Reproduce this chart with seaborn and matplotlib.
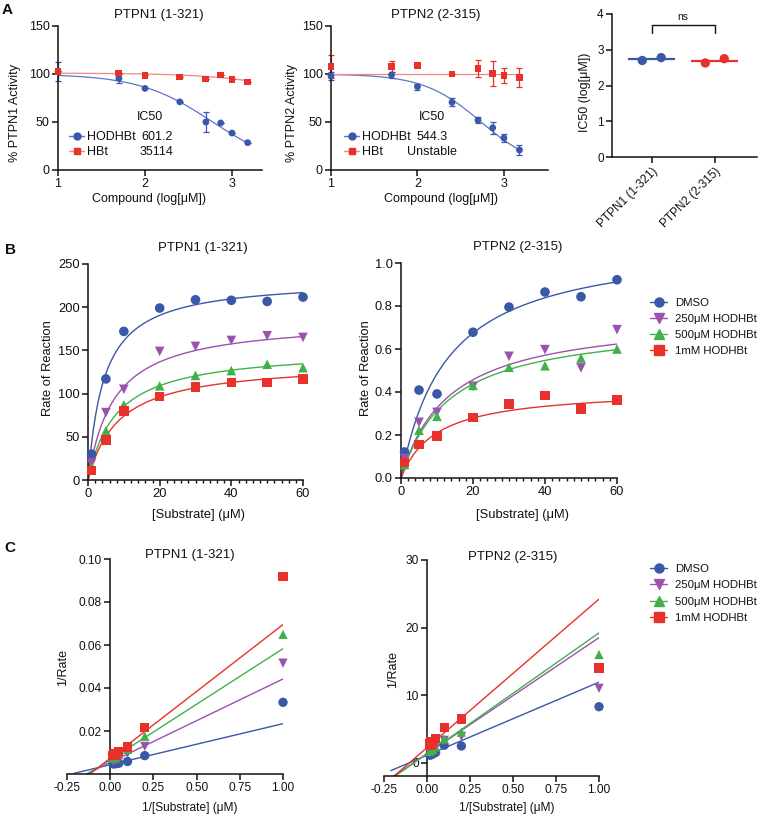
import numpy as np
import pandas as pd
import seaborn as sns
import matplotlib.pyplot as plt
from matplotlib.lines import Line2D
from matplotlib.ticker import MultipleLocator, FormatStrFormatter

# ------------------------------------------------------------------------------
# Data
# ------------------------------------------------------------------------------
# Panel A: dose response, x = log[compound] (uM)
log_conc = [1.0, 1.7, 2.0, 2.4, 2.7, 2.87, 3.0, 3.18]
n1_hodhbt = [102.4, 95.5, 85.0, 71.0, 50.0, 49.0, 38.5, 28.5]
n1_hodhbt_err = [10, 5, 0, 0, 10, 0, 0, 0]
n1_hbt = [103.0, 101.0, 98.6, 96.9, 94.8, 99.0, 94.5, 91.7]
n1_hbt_err = [0, 0, 0, 0, 0, 0, 0, 0]
n2_hodhbt = [98.0, 99.0, 86.8, 70.5, 52.0, 44.0, 33.3, 20.8]
n2_hodhbt_err = [4, 3, 3, 4, 3, 6, 4, 5]
n2_hbt = [107.6, 107.6, 108.7, 100.0, 106.0, 100.7, 98.6, 96.0]
n2_hbt_err = [12, 6, 0, 0, 9, 13, 8, 10]

# fitted curves: (top, logIC50, hill slope)
n1_fit_hodhbt = (100.0, 2.779, 1.02)
n1_fit_hbt = (101.0, 4.545, 0.78)
n2_fit_hodhbt = (100.0, 2.736, 1.30)
n2_hbt_flat = 100.0  # unstable fit -> flat line

n1_ic50_text = ['601.2', '35114']
n2_ic50_text = ['544.3', 'Unstable']

# IC50 replicates, log[uM]
ic50_groups = ['PTPN1 (1-321)', 'PTPN2 (2-315)']
ic50_reps = [[2.70, 2.78], [2.63, 2.75]]

# Panel B: Michaelis-Menten
substrate = [1, 5, 10, 20, 30, 40, 50, 60]
conditions = ['DMSO', '250μM HODHBt', '500μM HODHBt', '1mM HODHBt']
b1_rates = [
    [30.0, 117.0, 172.0, 199.0, 208.6, 208.0, 206.7, 211.7],
    [19.4, 78.0, 105.0, 148.8, 154.6, 161.5, 167.0, 165.0],
    [15.4, 57.0, 87.0, 109.0, 121.0, 126.7, 134.0, 130.0],
    [10.9, 46.0, 80.0, 96.6, 107.4, 113.0, 113.0, 117.0],
]
b2_rates = [
    [0.121, 0.409, 0.391, 0.678, 0.795, 0.865, 0.843, 0.922],
    [0.091, 0.259, 0.305, 0.426, 0.566, 0.597, 0.512, 0.690],
    [0.0625, 0.222, 0.287, 0.431, 0.515, 0.522, 0.558, 0.600],
    [0.0714, 0.155, 0.194, 0.282, 0.344, 0.384, 0.322, 0.364],
]
b1_km = [4.45, 7.22, 7.87, 8.52]
b1_vmax = [233.0, 186.0, 152.1, 137.0]
b2_km = [12.87, 13.3, 13.4, 9.77]
b2_vmax = [1.108, 0.761, 0.730, 0.415]

# Panel C: Lineweaver-Burk lines (slope, intercept)
c1_slope = [0.0191, 0.0388, 0.0517, 0.0622]
c1_icpt = [0.0043, 0.0054, 0.0066, 0.0073]
c2_slope = [10.83, 17.2, 17.9, 22.0]
c2_icpt = [1.07, 1.3, 1.3, 2.2]

# ------------------------------------------------------------------------------
# Style
# ------------------------------------------------------------------------------
BLUE, RED, PURPLE, GREEN = '#3a58a8', '#e8312a', '#9b52ae', '#42b04a'
BLUE_L, RED_L = '#5a78c8', '#f08a80'
cond_colors = dict(zip(conditions, [BLUE, PURPLE, GREEN, RED]))
cond_markers = dict(zip(conditions, ['o', 'v', '^', 's']))

sns.set_style("ticks")
plt.rcParams['font.family'] = ['Liberation Sans', 'DejaVu Sans']
plt.rcParams.update({
    'axes.linewidth': 1.1, 'axes.edgecolor': '#111111',
    'xtick.major.width': 1.1, 'ytick.major.width': 1.1, 'xtick.minor.width': 1.0,
    'xtick.major.size': 4, 'ytick.major.size': 4, 'xtick.minor.size': 2.5,
    'xtick.major.pad': 2, 'ytick.major.pad': 2,
    'xtick.color': '#111111', 'ytick.color': '#111111', 'text.color': '#111111',
})

W, H = 758, 818
fig = plt.figure(figsize=(W / 100, H / 100), dpi=100)


def add_ax(l, t, r, b):
    return fig.add_axes([l / W, 1 - b / H, (r - l) / W, (b - t) / H])


def ftext(x, y, s, **kw):
    kw.setdefault('ha', 'center')
    kw.setdefault('va', 'center')
    fig.text(x / W, 1 - y / H, s, **kw)


def hill(x, top, log_ic50, slope):
    return top / (1 + 10 ** ((x - log_ic50) * slope))


# ------------------------------------------------------------------------------
# Panel A: dose response curves
# ------------------------------------------------------------------------------
def dose_panel(box, pts_a, err_a, pts_b, err_b, fit_a, fit_b, xmax):
    ax = add_ax(*box)
    xfit = np.linspace(1, 3.2, 120)
    fit_df = pd.DataFrame({'x': np.r_[xfit, xfit],
                           'y': np.r_[hill(xfit, *fit_a), fit_b(xfit)],
                           'cpd': ['HODHBt'] * len(xfit) + ['HBt'] * len(xfit)})
    sns.lineplot(data=fit_df, x='x', y='y', hue='cpd', palette={'HODHBt': BLUE_L, 'HBt': RED_L},
                 lw=0.9, legend=False, ax=ax)
    ax.errorbar(log_conc, pts_b, yerr=err_b, fmt='none', ecolor=RED, elinewidth=0.9,
                capsize=2.5, capthick=0.9, clip_on=False)
    ax.errorbar(log_conc, pts_a, yerr=err_a, fmt='none', ecolor=BLUE, elinewidth=0.9,
                capsize=2.5, capthick=0.9, clip_on=False)
    pts = pd.DataFrame({'x': log_conc * 2, 'y': pts_a + pts_b,
                        'cpd': ['HODHBt'] * len(log_conc) + ['HBt'] * len(log_conc)})
    sns.scatterplot(data=pts, x='x', y='y', hue='cpd', style='cpd',
                    markers={'HODHBt': 'o', 'HBt': 's'}, palette={'HODHBt': BLUE, 'HBt': RED},
                    s=24, edgecolor='none', legend=False, ax=ax, clip_on=False, zorder=3)
    ax.set_xlim(1, xmax)
    ax.set_ylim(0, 150)
    ax.set_xticks([1, 2, 3])
    ax.set_yticks([0, 50, 100, 150])
    ax.set_xlabel('')
    ax.set_ylabel('')
    ax.tick_params(labelsize=9)
    sns.despine(ax=ax)
    return ax


axA1 = dose_panel((58, 26, 262, 170), n1_hodhbt, n1_hodhbt_err, n1_hbt, n1_hbt_err,
                  n1_fit_hodhbt, lambda x: hill(x, *n1_fit_hbt), 3.345)
axA2 = dose_panel((331, 26, 548, 170), n2_hodhbt, n2_hodhbt_err, n2_hbt, n2_hbt_err,
                  n2_fit_hodhbt, lambda x: np.full_like(x, n2_hbt_flat), 3.51)

a_handles = [Line2D([], [], color=BLUE_L, marker='o', mfc=BLUE, mec=BLUE, ms=5, lw=1),
             Line2D([], [], color=RED_L, marker='s', mfc=RED, mec=RED, ms=4.5, lw=1)]
for ax, lx in [(axA1, 69), (axA2, 344)]:
    ax.legend(a_handles, ['HODHBt', 'HBt'], loc='center left',
              bbox_to_anchor=(lx / W, 1 - 144.5 / H), bbox_transform=fig.transFigure,
              frameon=False, handlelength=1.2, handletextpad=0.25, borderpad=0,
              borderaxespad=0, labelspacing=0.25, fontsize=9)

ftext(150, 117, 'IC50', fontsize=9)
ftext(157, 137, n1_ic50_text[0], fontsize=9)
ftext(157, 152, n1_ic50_text[1], fontsize=9)
ftext(432, 117, 'IC50', fontsize=9)
ftext(432, 137, n2_ic50_text[0], fontsize=9)
ftext(432, 152, n2_ic50_text[1], fontsize=9)

ftext(159, 15, 'PTPN1 (1-321)', fontsize=9.5)
ftext(436, 15, 'PTPN2 (2-315)', fontsize=9.5)
ftext(15, 113, '% PTPN1 Activity', fontsize=9, rotation=90)
ftext(292, 113, '% PTPN2 Activity', fontsize=9, rotation=90)
ftext(149, 199, 'Compound (log[μM])', fontsize=9)
ftext(441, 199, 'Compound (log[μM])', fontsize=9)

# IC50 summary
axA3 = add_ax(612, 14, 757, 157)
rep_offset = [-0.15, 0.15]
grp_colors = [BLUE, RED]
for i, (grp, reps) in enumerate(zip(ic50_groups, ic50_reps)):
    axA3.hlines(np.mean(reps), i - 0.37, i + 0.37, color=grp_colors[i], lw=1.6, zorder=2)
    rep_df = pd.DataFrame({'pos': [i + o for o in rep_offset], 'ic50': reps})
    sns.scatterplot(data=rep_df, x='pos', y='ic50', color=grp_colors[i], s=45,
                    edgecolor='none', ax=axA3, zorder=3)
axA3.plot([0, 0, 1, 1], [3.47, 3.69, 3.69, 3.47], color='#111111', lw=1, clip_on=False)
axA3.text(0.5, 3.78, 'ns', ha='center', va='bottom', fontsize=7.5)
axA3.set_xlim(-0.63, 1.67)
axA3.set_ylim(0, 4)
axA3.set_yticks([0, 1, 2, 3, 4])
axA3.set_xticks([0, 1])
axA3.set_xticklabels(ic50_groups, rotation=45, ha='right', rotation_mode='anchor')
axA3.set_xlabel('')
axA3.set_ylabel('')
axA3.tick_params(labelsize=8.5)
sns.despine(ax=axA3)
ftext(585, 92, 'IC50 (log[μM])', fontsize=9, rotation=90)

ftext(7, 10, 'A', fontsize=11, fontweight='bold')

# ------------------------------------------------------------------------------
# Panel B: Michaelis-Menten
# ------------------------------------------------------------------------------
def mm_panel(box, rates, km, vmax, ymax, ystep, fmt):
    ax = add_ax(*box)
    sfit = np.linspace(0, 60, 200)
    fit_df = pd.concat([pd.DataFrame({'S': sfit, 'v': v * sfit / (k + sfit), 'cond': c})
                        for c, k, v in zip(conditions, km, vmax)])
    sns.lineplot(data=fit_df, x='S', y='v', hue='cond', palette=cond_colors, lw=1,
                 legend=False, ax=ax)
    pts = pd.concat([pd.DataFrame({'S': substrate, 'v': r, 'cond': c})
                     for c, r in zip(conditions, rates)])
    sns.scatterplot(data=pts, x='S', y='v', hue='cond', style='cond', palette=cond_colors,
                    markers=cond_markers, s=48, edgecolor='none', legend=False, ax=ax,
                    clip_on=False, zorder=3)
    ax.set_xlim(0, 60)
    ax.set_ylim(0, ymax)
    ax.set_xticks([0, 20, 40, 60])
    ax.xaxis.set_minor_locator(MultipleLocator(2))
    ax.set_yticks(np.arange(0, ymax + ystep / 2, ystep))
    ax.yaxis.set_major_formatter(FormatStrFormatter(fmt))
    ax.set_xlabel('')
    ax.set_ylabel('')
    ax.tick_params(labelsize=9.3)
    sns.despine(ax=ax)
    return ax


axB1 = mm_panel((88, 264, 303, 480), b1_rates, b1_km, b1_vmax, 250, 50, '%d')
axB2 = mm_panel((401, 263, 617, 478), b2_rates, b2_km, b2_vmax, 1.0, 0.2, '%.1f')

ftext(203, 248, 'PTPN1 (1-321)', fontsize=9.5)
ftext(518, 247, 'PTPN2 (2-315)', fontsize=9.5)
ftext(48, 368, 'Rate of Reaction', fontsize=9.3, rotation=90)
ftext(366, 368, 'Rate of Reaction', fontsize=9.3, rotation=90)
ftext(199, 515, '[Substrate] (μM)', fontsize=9.3)
ftext(523, 515, '[Substrate] (μM)', fontsize=9.3)
ftext(10, 250, 'B', fontsize=11, fontweight='bold')

cond_handles = [Line2D([], [], color=cond_colors[c], marker=cond_markers[c], ms=6.5, lw=1)
                for c in conditions]
axB2.legend(cond_handles, conditions, loc='center left', bbox_to_anchor=(650 / W, 1 - 327 / H),
            bbox_transform=fig.transFigure, frameon=False, handlelength=1.5,
            handletextpad=0.7, borderpad=0, borderaxespad=0, labelspacing=0.55, fontsize=8.2)

# ------------------------------------------------------------------------------
# Panel C: Lineweaver-Burk
# ------------------------------------------------------------------------------
lb_x = [-0.21, 1.0]


def lb_panel(box, rates, slope, icpt, ylim, yticks, fmt):
    ax = add_ax(*box)
    line_df = pd.concat([pd.DataFrame({'x': lb_x, 'y': [m * x + b for x in lb_x], 'cond': c})
                         for c, m, b in zip(conditions, slope, icpt)])
    sns.lineplot(data=line_df, x='x', y='y', hue='cond', palette=cond_colors, lw=1,
                 legend=False, ax=ax)
    pts = pd.concat([pd.DataFrame({'x': [1 / s for s in substrate],
                                   'y': [1 / v for v in r], 'cond': c})
                     for c, r in zip(conditions, rates)])
    sns.scatterplot(data=pts, x='x', y='y', hue='cond', style='cond', palette=cond_colors,
                    markers=cond_markers, s=45, edgecolor='none', legend=False, ax=ax,
                    clip_on=False, zorder=3)
    ax.set_xlim(-0.25, 1.0)
    ax.set_ylim(*ylim)
    ax.set_xticks([-0.25, 0, 0.25, 0.5, 0.75, 1.0])
    ax.xaxis.set_major_formatter(FormatStrFormatter('%.2f'))
    ax.set_yticks(yticks)
    ax.yaxis.set_major_formatter(FormatStrFormatter(fmt))
    ax.spines['left'].set_position(('data', 0))
    ax.set_xlabel('')
    ax.set_ylabel('')
    ax.tick_params(labelsize=8.6)
    sns.despine(ax=ax)
    return ax


axC1 = lb_panel((67, 559, 283, 774), b1_rates, c1_slope, c1_icpt, (0, 0.10),
                [0.02, 0.04, 0.06, 0.08, 0.10], '%.2f')
axC2 = lb_panel((384, 560, 599, 776), b2_rates, c2_slope, c2_icpt, (-2, 30),
                [0, 10, 20, 30], '%d')

ftext(190, 555, 'PTPN1 (1-321)', fontsize=9.5)
ftext(513, 557, 'PTPN2 (2-315)', fontsize=9.5)
ftext(63, 668, '1/Rate', fontsize=9, rotation=90)
ftext(393, 670, '1/Rate', fontsize=9, rotation=90)
ftext(190, 808, '1/[Substrate] (μM)', fontsize=8.6)
ftext(507, 808, '1/[Substrate] (μM)', fontsize=8.6)
ftext(10, 548, 'C', fontsize=11, fontweight='bold')

axC2.legend(cond_handles, conditions, loc='center left', bbox_to_anchor=(650 / W, 1 - 593.5 / H),
            bbox_transform=fig.transFigure, frameon=False, handlelength=1.5,
            handletextpad=0.7, borderpad=0, borderaxespad=0, labelspacing=0.55, fontsize=8.2)

fig.savefig('out.png', dpi=100)
plt.close(fig)
